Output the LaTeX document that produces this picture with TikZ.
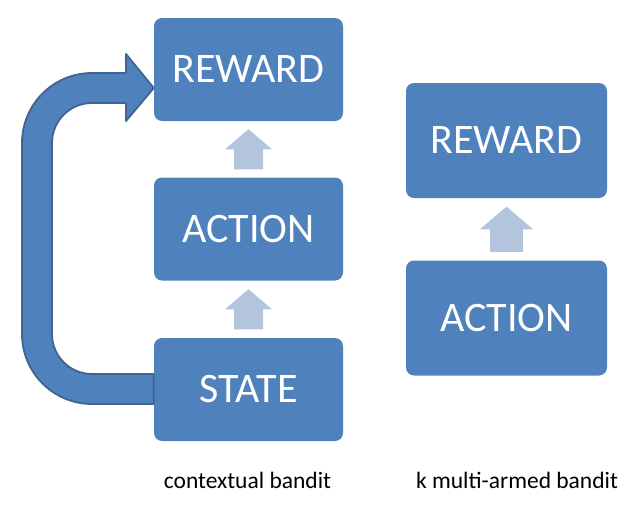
\documentclass[tikz,border=0pt]{standalone}
\usepackage{fontspec}
\setmainfont{Carlito}
\usetikzlibrary{calc}

\definecolor{boxblue}{HTML}{4F81BD}
\definecolor{lineblue}{HTML}{41638D}
\definecolor{paleblue}{HTML}{B3C4DD}

\tikzset{
    block/.style={fill=boxblue, rounded corners=8pt, text=white, inner sep=0pt,
        font=\fontsize{42}{50}\selectfont},
    small block/.style={block, minimum width=189pt, minimum height=103pt},
    big block/.style={block, minimum width=201pt, minimum height=115pt},
    caption/.style={anchor=base, font=\fontsize{23.5}{28}\selectfont},
    pics/upblock/.style={
        code={\fill[paleblue] (0,-20) -- (23.5,0) -- (14.5,0) -- (14.5,20)
            -- (-14.5,20) -- (-14.5,0) -- (-23.5,0) -- cycle;}
    }
}

\begin{document}
\begin{tikzpicture}[x=1pt, y=-1pt]
        \useasboundingbox (0,0) rectangle (633,517);

        % contextual bandit
        \node[small block] (rewL) at (248.5,69.5) {REWARD};
        \node[small block] (actL) at (248.5,229) {ACTION};
        \node[small block] (stL) at (248.5,389.5) {STATE};

        % kmulti-armed bandit
        \node[big block] (rewR) at (506.5,140.5) {REWARD};
        \node[big block] (actR) at (506.5,318) {ACTION};

        % the light arrows between the boxes
        \coordinate (m1) at ($(actL.north)!0.5!(rewL.south)$);
        \coordinate (m2) at ($(stL.north)!0.5!(actL.south)$);
        \coordinate (m3) at ($(actR.north)!0.5!(rewR.south)$);
        \pic at (m1) {upblock};
        \pic at (m2) {upblock};
        \pic[scale=1.13] at (m3) {upblock};

        % the bent arrow from STATE back up to REWARD
        \draw[fill=boxblue, draw=lineblue, line width=1.8pt, line join=round]
            (stL.west |- 0,374) -- (92,374)
            arc[start angle=90, end angle=180, radius=40] -- (52,143)
            arc[start angle=180, end angle=270, radius=40] -- (126,103)
            -- (126,121) -- (rewL.west |- 0,88) -- (126,54) -- (126,73) -- (92,73)
            arc[start angle=270, end angle=180, radius=70] -- (22,334)
            arc[start angle=180, end angle=90, radius=70] -- (stL.west |- 0,404)
            -- cycle;

        % labels
        \node[caption] (capL) at (247.5,488) {contextual bandit};
        \node[caption] (capR) at (517,488) {k multi-armed bandit};

    \end{tikzpicture}
\end{document}
